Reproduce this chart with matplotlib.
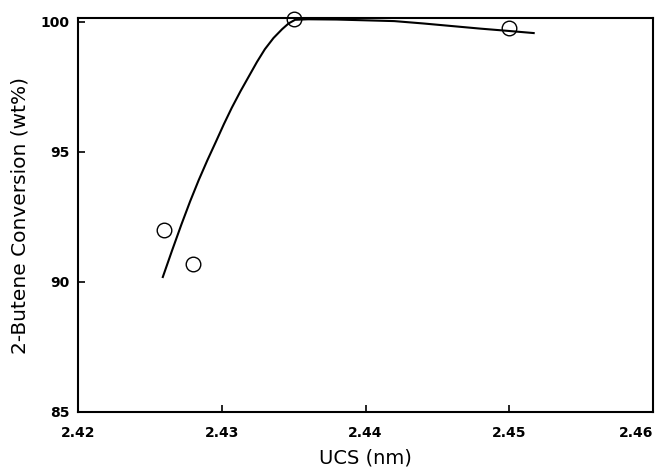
import matplotlib
matplotlib.use("Agg")
import matplotlib.pyplot as plt

# measured data points
ucs = [2.426, 2.428, 2.435, 2.450]
conversion = [92.0, 90.7, 100.1, 99.77]

# fitted trend curve
curve_x = [2.4259, 2.42655, 2.4272, 2.4278, 2.4284, 2.4290, 2.4296, 2.43015,
           2.4307, 2.4313, 2.4319, 2.43245, 2.4330, 2.4336, 2.4342, 2.43465,
           2.4351, 2.4360, 2.4380, 2.4400, 2.4420, 2.4440, 2.4460, 2.4480,
           2.4500, 2.4517]
curve_y = [90.19, 91.22, 92.22, 93.10, 93.92, 94.68, 95.40, 96.07,
           96.70, 97.33, 97.92, 98.46, 98.95, 99.38, 99.72, 99.94,
           100.08, 100.10, 100.09, 100.06, 100.03, 99.94, 99.84, 99.74,
           99.65, 99.57]

xticks = [2.42, 2.43, 2.44, 2.45, 2.46]
xtick_labels = ["2.42", "2.43", "2.44", "2.45", "2.46"]
yticks = [85, 90, 95, 100]
ytick_labels = ["85", "90", "95", "100"]

plt.rcParams['font.family'] = ['DejaVu Sans']

fig = plt.figure(figsize=(6.59, 4.69), dpi=100)
ax = fig.add_axes([78/659, 57/469, 575/659, (412-18.5)/469])

ax.plot(curve_x, curve_y, color='black', lw=1.5, zorder=2,
        solid_joinstyle='round')
ax.plot(ucs, conversion, linestyle='none', marker='o', markersize=10.5,
        markerfacecolor='none', markeredgecolor='black', markeredgewidth=1.0,
        zorder=3, clip_on=False)

ax.set_xlim(2.42, 2.46)
ax.set_ylim(85, 100.13)
ax.set_xticks(xticks)
ax.set_xticklabels(xtick_labels, fontweight='bold', fontsize=10)
ax.set_yticks(yticks)
ax.set_yticklabels(ytick_labels, fontweight='bold', fontsize=10)
ax.get_xticklabels()[-1].set_horizontalalignment('right')
ax.tick_params(direction='in', length=5, width=1.2, color='black')
ax.tick_params(axis='x', pad=10)
ax.tick_params(axis='y', pad=6)
ax.minorticks_off()

for s in ax.spines.values():
    s.set_linewidth(1.5)
    s.set_color('black')

ax.set_xlabel("UCS (nm)", fontsize=14, labelpad=6)
ax.set_ylabel("2-Butene Conversion (wt%)", fontsize=14.5, labelpad=8)

fig.savefig("out.png", dpi=100)
